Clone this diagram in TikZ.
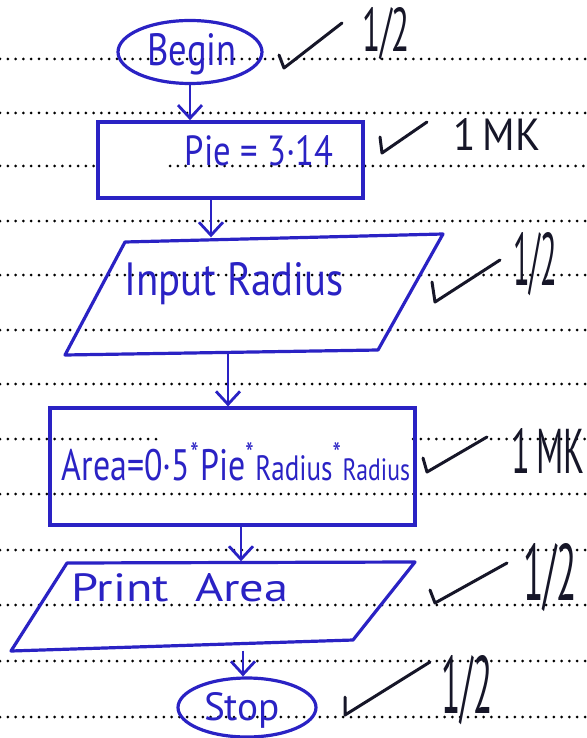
\documentclass[tikz,border=0pt]{standalone}
\usepackage{fontspec}
\setmainfont{PT Sans}
\usetikzlibrary{shapes.geometric,arrows.meta}
\definecolor{ink}{RGB}{42,34,196}
\definecolor{pen}{RGB}{22,22,40}
\newcommand{\hw}[3]{\resizebox{#1pt}{#2pt}{#3}}
\begin{document}
\begin{tikzpicture}[x=1pt,y=-1pt,
  blk/.style={draw=ink,line width=3.2pt,inner sep=0pt},
  area box/.style={inner sep=0pt,draw=none},
  edge ink/.style={draw=ink,line width=3.2pt,line join=round},
  arr/.style={draw=ink,line width=2.8pt,-{Straight Barb[length=13pt,width=24pt,line width=2.8pt]}},
  dots/.style={line width=3pt,line cap=round,dash pattern=on 0pt off 7.8pt,black},
  tick/.style={draw=pen,line width=3pt,line cap=round,line join=round},
  lbl/.style={text=ink,inner sep=0pt,anchor=base},
  ann/.style={text=pen,inner sep=0pt,anchor=base}]
\useasboundingbox (0,0) rectangle (586,738);
% notebook lines
\foreach \y in {59,113,221,275,330,384,494,550,605,661,717}
  \draw[dots] (0,\y) -- (586,\y);
\draw[dots] (0,166) -- (99,166) (170,166) -- (586,166);
\draw[dots] (0,439) -- (161,439) (413,439) -- (586,439);
% shapes
\node[blk,ellipse,minimum width=144pt,minimum height=63pt] (begin) at (190,52) {};
\node[blk,rectangle,line width=3.6pt,minimum width=265pt,minimum height=76pt] (pie) at (230.5,160) {};
\node[area box,minimum width=378pt,minimum height=115pt] (inp) at (254,295) {};
\draw[edge ink] (125,242) -- (443,234) -- (378,350) -- (65,355) -- cycle;
\node[blk,rectangle,minimum width=365pt,minimum height=117pt] (area) at (232.5,466.5) {};
\node[area box,minimum width=404pt,minimum height=89pt] (prt) at (213,606) {};
\draw[edge ink] (67,563) -- (415,562) -- (353,640) -- (11,651) -- cycle;
\node[blk,ellipse,minimum width=138pt,minimum height=59pt] (stop) at (247,707.5) {};
% texts
\node[lbl] (tbegin) at (192,66) {\hw{89}{32}{Begin}};
\node[lbl] (tpie) at (259,166) {\hw{148}{30}{Pie = 3·14}};
\node[lbl] (tinp) at (234,295) {\hw{219}{33}{Input Radius}};
\node[lbl] (tarea) at (236,480) {\hw{348}{38}{Area=0·5\textsuperscript{*}Pie\textsuperscript{*}{\footnotesize Radius}\textsuperscript{*}{\scriptsize Radius}}};
\node[lbl] (tprt) at (180,601) {\hw{217}{28}{Print\ \ Area}};
\node[lbl] (tstop) at (242,720) {\hw{76}{28}{Stop}};
% connectors
\draw[arr] (begin.south) -- (begin.south |- pie.north);
\draw[arr] ([xshift=-19.5pt]pie.south) -- ([xshift=-19.5pt]pie.south |- inp.north);
\draw[arr] ([xshift=-26pt]inp.south) -- ([xshift=-26pt]inp.south |- area.north);
\draw[arr] ([xshift=28pt]prt.north |- area.south) -- ([xshift=28pt]prt.north);
\draw[arr] ([xshift=-4pt]stop.north |- prt.south) -- ([xshift=-4pt]stop.north);
% marks
\draw[tick] (279,55) -- (284,68) -- (342,23);
\draw[tick] (380,137) -- (382,153) -- (427,122);
\draw[tick] (432,282) -- (435,302) -- (500,260);
\draw[tick] (423,458) -- (427,472) -- (487,437);
\draw[tick] (430,590) -- (435,603) -- (507,563);
\draw[tick] (345,697) -- (345,715) -- (430,662);
\node[ann] (h1) at (386,52) {\hw{48}{44}{1/2}};
\node[ann] (m1) at (497,150) {\hw{87}{32}{1\,MK}};
\node[ann] (h2) at (535,285) {\hw{44}{53}{1/2}};
\node[ann] (m2) at (548,473) {\hw{73}{45}{1\,MK}};
\node[ann] (h3) at (550,600) {\hw{54}{57}{1/2}};
\node[ann] (h4) at (467,713) {\hw{51}{58}{1/2}};
\end{tikzpicture}
\end{document}
